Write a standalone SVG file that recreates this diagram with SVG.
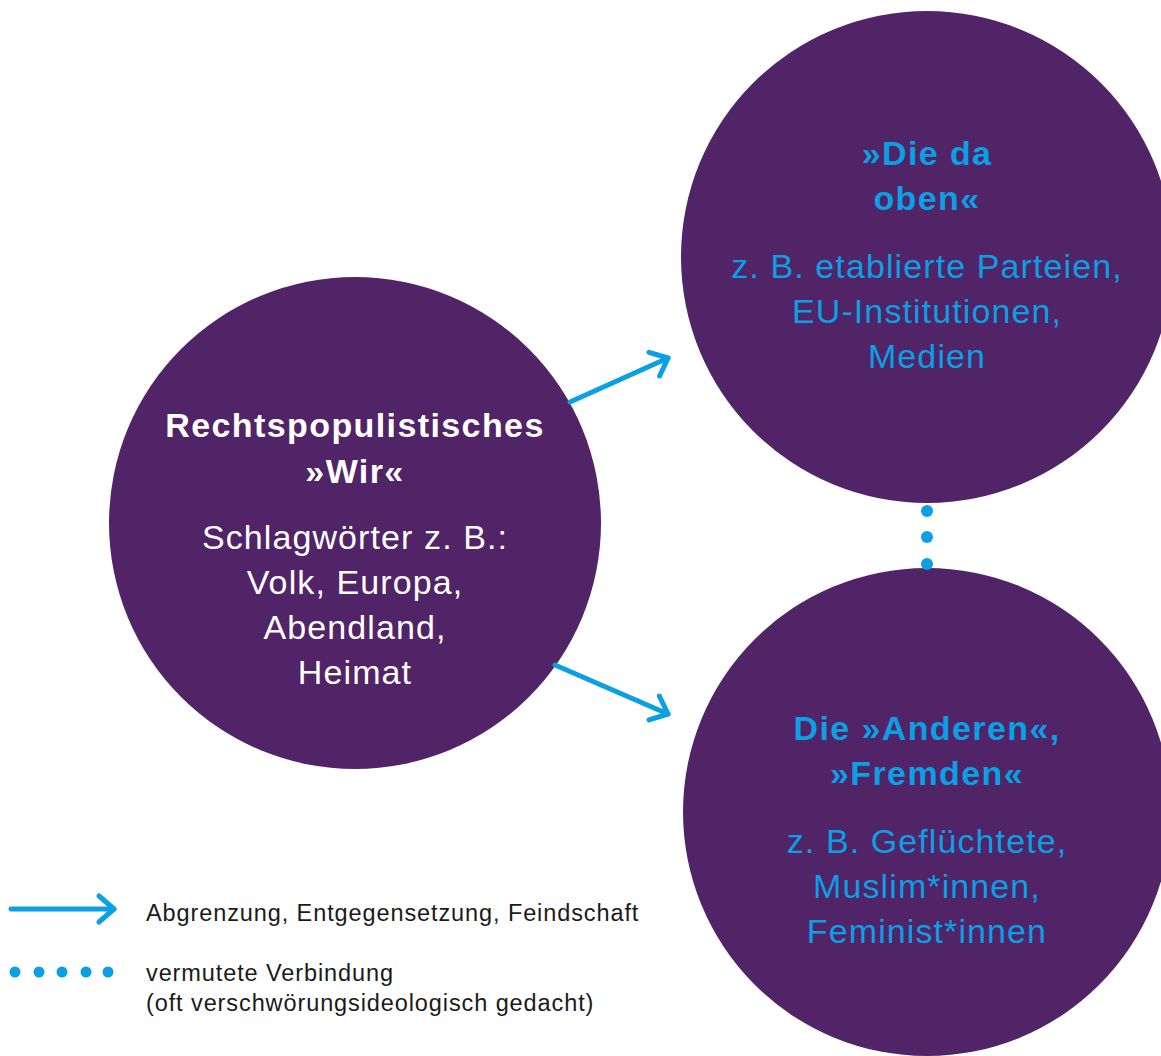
<svg xmlns="http://www.w3.org/2000/svg" width="1161" height="1056" viewBox="0 0 1161 1056">
  <style>
    .circle { fill: #512468; }
    .t { font-family: "Liberation Sans", Arial, sans-serif; text-anchor: middle; }
    .h { font-size: 34px; font-weight: bold; letter-spacing: 1.4px; }
    .r { font-size: 34px; letter-spacing: 1.1px; }
    .white { fill: #ffffff; }
    .blue { fill: #0b9fe3; }
    .conn { stroke: #0b9fe3; stroke-width: 5; stroke-linecap: round; fill: none; }
    .dot { fill: #0b9fe3; }
    .leg { font-family: "Liberation Sans", Arial, sans-serif; font-size: 23.5px; letter-spacing: 0.9px; fill: #1a1a1a; }
  </style>
  <defs>
    <marker id="chev" markerUnits="userSpaceOnUse" viewBox="-20 -18 26 36" refX="0" refY="0" markerWidth="26" markerHeight="36" orient="auto" overflow="visible">
      <path d="M-15,-13 L0,0 L-15,13" fill="none" stroke="#0b9fe3" stroke-width="5" stroke-linecap="round" stroke-linejoin="round"/>
    </marker>
  </defs>
  <rect width="1161" height="1056" fill="#ffffff"/>

  <g id="node-wir">
    <circle class="circle" cx="355" cy="523" r="246"/>
    <text class="t h white" x="355" y="437">Rechtspopulistisches</text>
    <text class="t h white" x="355" y="483">»Wir«</text>
    <text class="t r white" x="355" y="549">Schlagwörter z. B.:</text>
    <text class="t r white" x="355" y="594">Volk, Europa,</text>
    <text class="t r white" x="355" y="639">Abendland,</text>
    <text class="t r white" x="355" y="684">Heimat</text>
  </g>

  <g id="node-oben">
    <circle class="circle" cx="927" cy="257" r="246"/>
    <text class="t h blue" x="927" y="165">»Die da</text>
    <text class="t h blue" x="927" y="210">oben«</text>
    <text class="t r blue" x="927" y="278">z. B. etablierte Parteien,</text>
    <text class="t r blue" x="927" y="323">EU-Institutionen,</text>
    <text class="t r blue" x="927" y="368">Medien</text>
  </g>

  <g id="node-andere">
    <circle class="circle" cx="927" cy="812" r="244"/>
    <text class="t h blue" x="927" y="740">Die »Anderen«,</text>
    <text class="t h blue" x="927" y="785">»Fremden«</text>
    <text class="t r blue" x="927" y="853">z. B. Geflüchtete,</text>
    <text class="t r blue" x="927" y="898">Muslim*innen,</text>
    <text class="t r blue" x="927" y="943">Feminist*innen</text>
  </g>

  <g id="connectors">
    <line class="conn" x1="570" y1="402" x2="668" y2="358" marker-end="url(#chev)"/>
    <line class="conn" x1="555" y1="665" x2="668" y2="714" marker-end="url(#chev)"/>
    <circle class="dot" cx="927" cy="511" r="6"/>
    <circle class="dot" cx="927" cy="537" r="6"/>
    <circle class="dot" cx="927" cy="564" r="6"/>
  </g>

  <g id="legend">
    <line class="conn" x1="11" y1="909" x2="114" y2="909" marker-end="url(#chev)"/>
    <text class="leg" x="146" y="921">Abgrenzung, Entgegensetzung, Feindschaft</text>
    <circle class="dot" cx="15" cy="972" r="5.5"/>
    <circle class="dot" cx="39" cy="972" r="5.5"/>
    <circle class="dot" cx="62" cy="972" r="5.5"/>
    <circle class="dot" cx="86" cy="972" r="5.5"/>
    <circle class="dot" cx="108" cy="972" r="5.5"/>
    <text class="leg" x="146" y="981">vermutete Verbindung</text>
    <text class="leg" x="146" y="1011">(oft verschwörungsideologisch gedacht)</text>
  </g>
</svg>
